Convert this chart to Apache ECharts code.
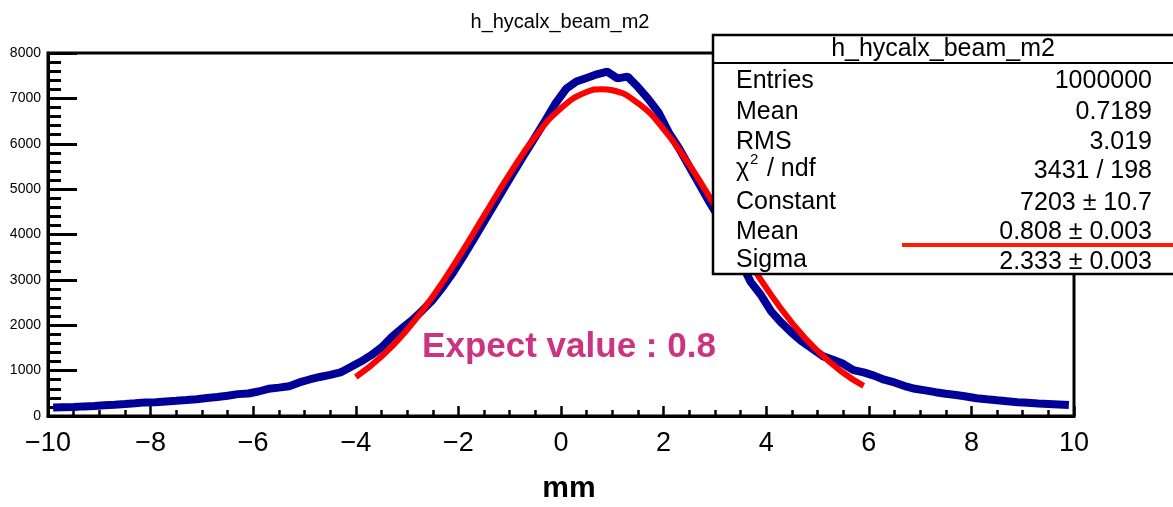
<!DOCTYPE html>
<html>
<head>
<meta charset="utf-8">
<script src="https://cdn.jsdelivr.net/npm/echarts@6/dist/echarts.min.js"></script>
<style>
  html, body { margin: 0; padding: 0; background: #fff; }
  #chart { width: 1173px; height: 507px; }
</style>
</head>
<body>
<div id="chart"></div>
<script>
// ---- data ----
const histTitle = 'h_hycalx_beam_m2';
const binLow = -10;
const binWidth = 0.2;
const histCounts = [
  188, 195, 200, 212, 222, 238, 248, 262, 280, 300,
  305, 322, 335, 352, 370, 398, 418, 445, 482, 495,
  540, 600, 625, 655, 740, 805, 860, 905, 960, 1080,
  1200, 1340, 1510, 1740, 1930, 2115, 2330, 2560, 2850, 3170,
  3530, 3900, 4280, 4660, 5040, 5420, 5790, 6150, 6520, 6900,
  7210, 7370, 7450, 7530, 7590, 7440, 7480, 7250, 6990, 6690,
  6250, 5900, 5500, 5100, 4700, 4330, 3900, 3400, 2950, 2660,
  2300, 2050, 1830, 1640, 1480, 1320, 1240, 1150, 1010, 960,
  890, 800, 740, 660, 600, 565, 525, 492, 462, 430,
  392, 368, 345, 325, 305, 290, 275, 265, 255, 240
];
const fitX = [-4, -3.5, -3, -2.5, -2, -1.5, -1, -0.5, 0, 0.5, 0.8, 1, 1.5, 2, 2.5, 3, 3.5, 4, 4.5, 5, 5.5, 5.9];
const fitY = [861, 1310, 1901, 2636, 3491, 4416, 5334, 6156, 6784, 7140, 7203, 7179, 6893, 6322, 5537, 4633, 3702, 2825, 2059, 1434, 953, 665];
const xTicks = { min: -10, max: 10, step: 2 };
const yTicks = { min: 0, max: 8000, step: 1000 };
const statLabels = ['Entries', 'Mean', 'RMS', null, 'Constant', 'Mean', 'Sigma'];
const statValues = ['1000000', '0.7189', '3.019', '3431 / 198', '7203 \u00b1 10.7', '0.808 \u00b1 0.003', '2.333 \u00b1 0.003'];
const xAxisTitle = 'mm';
const annotation = 'Expect value : 0.8';

// ---- build ----
const histData = histCounts.map((v, i) => [binLow + binWidth * (i + 0.5), v]);
const fitData = fitX.map((x, i) => [x, fitY[i]]);

const FONT = '"Liberation Sans", Arial, Helvetica, sans-serif';
const chart = echarts.init(document.getElementById('chart'), null, { renderer: 'canvas' });

const boxLeft = 713, boxTop = 35, boxBottom = 274;
const labelX = 736, valueX = 1152;
const labelYs = [81, 112, 142, 169, 202, 232, 260];
const valueYs = [81, 112, 142, 171, 203, 232, 262];

const graphics = [
  { type: 'rect', z: 100, shape: { x: boxLeft, y: boxTop, width: 470, height: boxBottom - boxTop },
    style: { fill: '#fff', stroke: '#000', lineWidth: 2.5 } },
  { type: 'line', z: 101, shape: { x1: boxLeft, y1: 63, x2: 1180, y2: 63 },
    style: { stroke: '#000', lineWidth: 2 } },
  { type: 'text', z: 102, x: 943, y: 49,
    style: { text: histTitle, font: '25px ' + FONT, fill: '#000', textAlign: 'center', textVerticalAlign: 'middle' } },
  { type: 'text', z: 102, x: labelX, y: 169,
    style: { text: '\u03c7', font: '25px ' + FONT, fill: '#000', textAlign: 'left', textVerticalAlign: 'middle' } },
  { type: 'text', z: 102, x: labelX + 14, y: 160,
    style: { text: '2', font: '15px ' + FONT, fill: '#000', textAlign: 'left', textVerticalAlign: 'middle' } },
  { type: 'text', z: 102, x: labelX + 24, y: 169,
    style: { text: ' / ndf', font: '25px ' + FONT, fill: '#000', textAlign: 'left', textVerticalAlign: 'middle' } },
  { type: 'line', z: 103, shape: { x1: 902, y1: 245, x2: 1180, y2: 245 },
    style: { stroke: '#ff1a00', lineWidth: 4 } },
  { type: 'text', z: 50, x: 569, y: 347,
    style: { text: annotation, font: 'bold 35px ' + FONT, fill: '#cc3380', textAlign: 'center', textVerticalAlign: 'middle' } },
  { type: 'text', z: 50, x: 560, y: 22,
    style: { text: histTitle, font: '20px ' + FONT, fill: '#000', textAlign: 'center', textVerticalAlign: 'middle' } },
  { type: 'text', z: 50, x: 569, y: 489,
    style: { text: xAxisTitle, font: 'bold 30px ' + FONT, fill: '#000', textAlign: 'center', textVerticalAlign: 'middle' } }
];
statLabels.forEach((t, i) => {
  if (t) graphics.push({ type: 'text', z: 102, x: labelX, y: labelYs[i],
    style: { text: t, font: '25px ' + FONT, fill: '#000', textAlign: 'left', textVerticalAlign: 'middle' } });
  graphics.push({ type: 'text', z: 102, x: valueX, y: valueYs[i],
    style: { text: statValues[i], font: '25px ' + FONT, fill: '#000', textAlign: 'right', textVerticalAlign: 'middle' } });
});

chart.setOption({
  animation: false,
  backgroundColor: '#fff',
  grid: { left: 48, right: 99, top: 53, bottom: 91, show: true, borderColor: '#000', borderWidth: 3, backgroundColor: 'transparent' },
  xAxis: {
    type: 'value', min: xTicks.min, max: xTicks.max, interval: xTicks.step,
    axisLine: { show: true, onZero: false, lineStyle: { color: '#000', width: 3 } },
    axisTick: { show: true, inside: true, length: 10, lineStyle: { color: '#000', width: 2.5 } },
    minorTick: { show: true, splitNumber: 4, length: 6, lineStyle: { color: '#000', width: 2.5 } },
    splitLine: { show: false },
    axisLabel: { color: '#000', fontFamily: FONT, fontSize: 27, margin: 14,
      formatter: v => String(v).replace('-', '\u2212') }
  },
  yAxis: {
    type: 'value', min: yTicks.min, max: yTicks.max, interval: yTicks.step,
    axisLine: { show: true, onZero: false, lineStyle: { color: '#000', width: 3 } },
    axisTick: { show: true, inside: true, length: 29, lineStyle: { color: '#000', width: 3 } },
    minorTick: { show: true, splitNumber: 5, length: 13, lineStyle: { color: '#000', width: 3 } },
    splitLine: { show: false },
    axisLabel: { color: '#000', fontFamily: FONT, fontSize: 14, margin: 7,
      formatter: v => String(v) }
  },
  series: [
    { type: 'line', data: histData, showSymbol: false, smooth: false, z: 2,
      lineStyle: { color: '#000099', width: 8 }, itemStyle: { color: '#000099' } },
    { type: 'line', data: fitData, showSymbol: false, smooth: true, z: 3,
      lineStyle: { color: '#ff0000', width: 6 }, itemStyle: { color: '#ff0000' } }
  ],
  graphic: graphics
});
</script>
</body>
</html>
